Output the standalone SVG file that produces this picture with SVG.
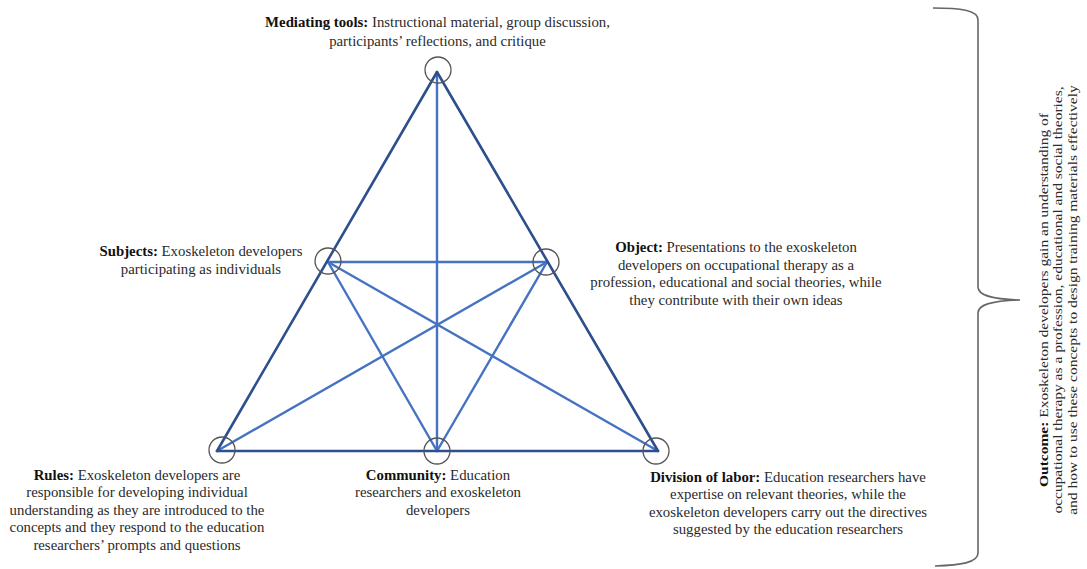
<svg xmlns="http://www.w3.org/2000/svg" width="1087" height="569" viewBox="0 0 1087 569">
<style>
.t{font-family:"Liberation Serif","Times New Roman",serif;font-size:14.8px;fill:#2a2a2a;text-anchor:middle}
.v{font-size:15.5px}
.b{font-weight:bold;fill:#111}
.o{stroke:#2d4f8e;stroke-width:2.6;fill:none;stroke-linecap:round}
.i{stroke:#4672c2;stroke-width:2.4;fill:none;stroke-linecap:round}
.c{stroke:#555;stroke-width:1.3;fill:none}
.br{stroke:#666;stroke-width:1.6;fill:none}
</style>
<rect width="1087" height="569" fill="#fff"/>
<g id="connectors">
<line class="i" x1="437" y1="72" x2="437" y2="451"/>
<line class="i" x1="328" y1="262" x2="547" y2="262"/>
<line class="i" x1="328" y1="262" x2="658" y2="451"/>
<line class="i" x1="547" y1="262" x2="217" y2="451"/>
<line class="i" x1="328" y1="262" x2="437" y2="451"/>
<line class="i" x1="547" y1="262" x2="437" y2="451"/>
<line class="o" x1="437" y1="72" x2="217" y2="451"/>
<line class="o" x1="437" y1="72" x2="658" y2="451"/>
<line class="o" x1="217" y1="451" x2="658" y2="451"/>
</g>
<g id="node-mediating">
<circle class="c" cx="438" cy="70" r="13"/>
<text class="t" x="437.5" y="27"><tspan class="b">Mediating tools:</tspan> Instructional material, group discussion,</text>
<text class="t" x="437.5" y="46">participants’ reflections, and critique</text>
</g>
<g id="node-subjects">
<circle class="c" cx="328" cy="261" r="13"/>
<text class="t" x="201" y="256"><tspan class="b">Subjects:</tspan> Exoskeleton developers</text>
<text class="t" x="201" y="274">participating as individuals</text>
</g>
<g id="node-object">
<circle class="c" cx="546" cy="262" r="13"/>
<text class="t" x="736" y="252"><tspan class="b">Object:</tspan> Presentations to the exoskeleton</text>
<text class="t" x="736" y="269.5">developers on occupational therapy as a</text>
<text class="t" x="736" y="287">profession, educational and social theories, while</text>
<text class="t" x="736" y="304.5">they contribute with their own ideas</text>
</g>
<g id="node-rules">
<circle class="c" cx="222" cy="450" r="13"/>
<text class="t" x="137" y="479.5"><tspan class="b">Rules:</tspan> Exoskeleton developers are</text>
<text class="t" x="137" y="497">responsible for developing individual</text>
<text class="t" x="137" y="514.5">understanding as they are introduced to the</text>
<text class="t" x="137" y="532">concepts and they respond to the education</text>
<text class="t" x="137" y="549.5">researchers’ prompts and questions</text>
</g>
<g id="node-community">
<circle class="c" cx="437" cy="451" r="13"/>
<text class="t" x="438" y="479.5"><tspan class="b">Community:</tspan> Education</text>
<text class="t" x="438" y="497">researchers and exoskeleton</text>
<text class="t" x="438" y="514.5">developers</text>
</g>
<g id="node-division">
<circle class="c" cx="656" cy="451" r="13"/>
<text class="t" x="788" y="481.5"><tspan class="b">Division of labor:</tspan> Education researchers have</text>
<text class="t" x="788" y="499">expertise on relevant theories, while the</text>
<text class="t" x="788" y="516.5">exoskeleton developers carry out the directives</text>
<text class="t" x="788" y="534">suggested by the education researchers</text>
</g>
<g id="node-outcome">
<path class="br" d="M933,8 C960,8 978,10 978,20 L978,287 C978,295 990,299 1020,300 C990,301 978,305 978,313 L978,553 C978,563 960,565 935,566"/>
<g transform="translate(1048,300) rotate(-90) scale(1,0.8)">
<text class="t v" x="0" y="0"><tspan class="b">Outcome:</tspan> Exoskeleton developers gain an understanding of</text>
<text class="t v" x="0" y="18">occupational therapy as a profession, educational and social theories,</text>
<text class="t v" x="0" y="36">and how to use these concepts to design training materials effectively</text>
</g>
</g>
</svg>
